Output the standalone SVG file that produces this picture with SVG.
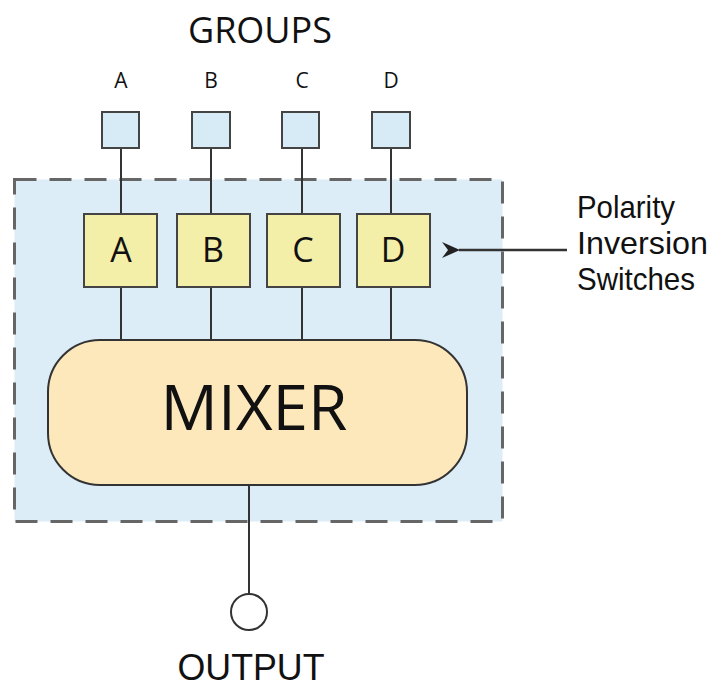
<svg xmlns="http://www.w3.org/2000/svg" width="714" height="688" viewBox="0 0 714 688">
<defs>
<style>
text{font-family:"Open Sans","Noto Sans","Liberation Sans",sans-serif;fill:#111;text-anchor:middle}
.wire{stroke:#333;stroke-width:2;fill:none}
.grp{fill:#d6ebf5;stroke:#444;stroke-width:2}
.sw{fill:#f3eea8;stroke:#444;stroke-width:2}
.lbl{text-anchor:start;font-size:32px;font-family:"Liberation Sans",Arial,sans-serif}
.out{font-family:"Liberation Sans",Arial,sans-serif}
</style>
<marker id="ah" viewBox="0 0 18 16" refX="1" refY="8" markerWidth="18" markerHeight="16" markerUnits="userSpaceOnUse" orient="auto">
<path d="M18,0 L0,8 L18,16 L12,8 Z" fill="#222"/>
</marker>
</defs>
<rect width="714" height="688" fill="#fff"/>
<g id="panel">
<rect x="14.5" y="179.5" width="488" height="342" fill="#dcedf8" stroke="#666" stroke-width="3" stroke-dasharray="22 13"/>
</g>
<g id="connectors">
<line class="wire" x1="121" y1="148" x2="121" y2="340"/>
<line class="wire" x1="211" y1="148" x2="211" y2="340"/>
<line class="wire" x1="302" y1="148" x2="302" y2="340"/>
<line class="wire" x1="391" y1="148" x2="391" y2="340"/>
<line class="wire" x1="249" y1="485" x2="249" y2="594"/>
<line x1="567" y1="250" x2="459" y2="250" stroke="#333" stroke-width="2.5" marker-end="url(#ah)"/>
</g>
<g id="title"><text x="260" y="43" font-size="36">GROUPS</text></g>
<g id="group-A"><text x="121" y="88" font-size="21">A</text><rect class="grp" x="102" y="112" width="37" height="36"/></g>
<g id="group-B"><text x="211" y="88" font-size="21">B</text><rect class="grp" x="192" y="112" width="38" height="36"/></g>
<g id="group-C"><text x="302" y="88" font-size="21">C</text><rect class="grp" x="282" y="112" width="37" height="36"/></g>
<g id="group-D"><text x="391" y="88" font-size="21">D</text><rect class="grp" x="372" y="112" width="38" height="36"/></g>
<g id="switch-A"><rect class="sw" x="84" y="214" width="73" height="73"/><text x="121" y="262" font-size="34">A</text></g>
<g id="switch-B"><rect class="sw" x="177" y="214" width="73" height="73"/><text x="213" y="262" font-size="34">B</text></g>
<g id="switch-C"><rect class="sw" x="267" y="214" width="73" height="73"/><text x="303" y="262" font-size="34">C</text></g>
<g id="switch-D"><rect class="sw" x="357" y="214" width="73" height="73"/><text x="393" y="262" font-size="34">D</text></g>
<g id="mixer"><rect x="48" y="340" width="419" height="145" rx="52" ry="52" fill="#fde8bc" stroke="#333" stroke-width="2"/><text x="254" y="430" font-size="62" textLength="187" lengthAdjust="spacingAndGlyphs">MIXER</text></g>
<g id="output"><circle cx="249" cy="612" r="18" fill="#fff" stroke="#333" stroke-width="2"/><text class="out" x="251" y="680" font-size="37" textLength="147" lengthAdjust="spacingAndGlyphs">OUTPUT</text></g>
<g id="label"><text class="lbl" x="577" y="218" textLength="98" lengthAdjust="spacingAndGlyphs">Polarity</text><text class="lbl" x="577" y="254" textLength="131" lengthAdjust="spacingAndGlyphs">Inversion</text><text class="lbl" x="577" y="290" textLength="118" lengthAdjust="spacingAndGlyphs">Switches</text></g>
</svg>
